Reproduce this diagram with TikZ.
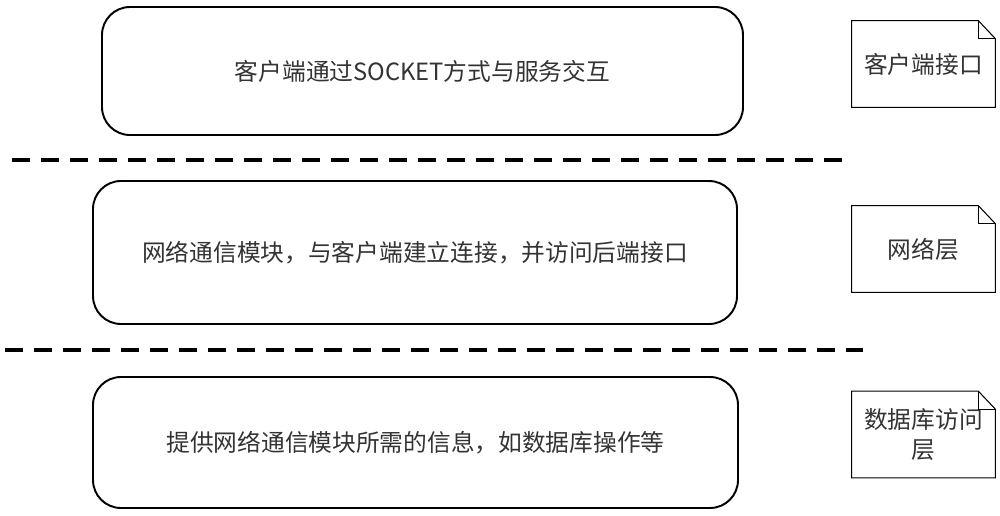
\documentclass[tikz,border=0pt]{standalone}
\usepackage{fontspec}
\newfontfamily\cjkfont{Noto Sans CJK SC}
\begin{document}
\begin{tikzpicture}[
    font=\cjkfont\fontsize{13.5pt}{17.5pt}\selectfont,
    layerbox/.style={draw, line width=1.1pt, rounded corners=0.56cm, text=black!80},
    notebox/.style={minimum width=2.86cm, minimum height=1.72cm, align=center, text=black!80},
    sepline/.style={line width=1.8pt, dash pattern=on 0.36cm off 0.22cm}
]
\useasboundingbox (0,0) rectangle (20,-10.3);

% === Layer boxes ===
\node[layerbox, minimum width=12.82cm, minimum height=2.56cm] (client) at (8.45,-1.42)
    {客户端通过SOCKET方式与服务交互};
\node[layerbox, minimum width=12.88cm, minimum height=2.86cm] (net) at (8.30,-5.05)
    {网络通信模块，与客户端建立连接，并访问后端接口};
\node[layerbox, minimum width=12.90cm, minimum height=2.62cm] (db) at (8.31,-8.85)
    {提供网络通信模块所需的信息，如数据库操作等};

% === Layer names ===
\node[notebox] (clientnote) at (18.47,-1.28) {客户端接口};
\node[notebox] (netnote) at (18.47,-4.98) {网络层};
\node[notebox] (dbnote) at (18.47,-8.69) {数据库访问\\层};

% folded corners
\foreach \n in {clientnote,netnote,dbnote}{
    \draw[line width=0.6pt] (\n.north west) -- ([xshift=-0.34cm]\n.north east)
        -- ([yshift=-0.36cm]\n.north east) -- (\n.south east) -- (\n.south west) -- cycle;
    \draw[line width=0.6pt] ([xshift=-0.34cm]\n.north east) |- ([yshift=-0.36cm]\n.north east);
}

% === Separators ===
\draw[sepline] (0.24,-3.2) -- (16.9,-3.2);
\draw[sepline] (0.10,-7.0) -- (17.26,-7.0);

\end{tikzpicture}
\end{document}
